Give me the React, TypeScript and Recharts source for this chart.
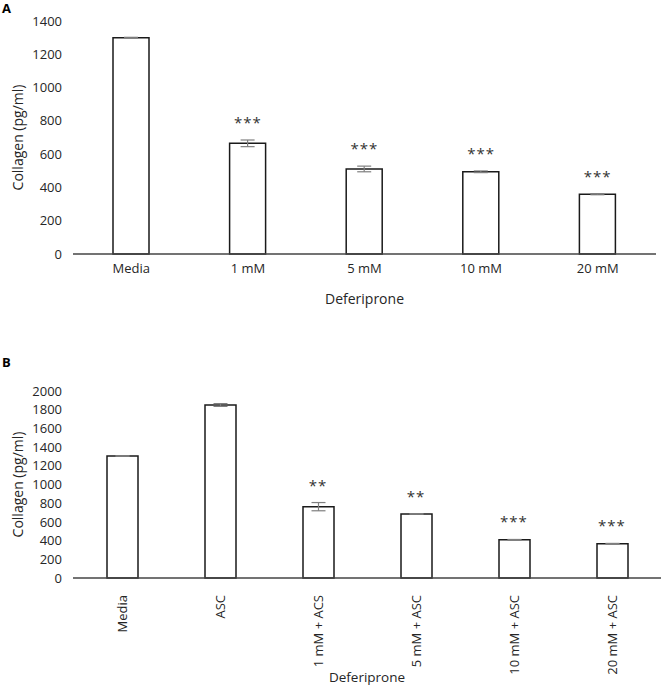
import {
  ComposedChart,
  Bar,
  ErrorBar,
  Scatter,
  XAxis,
  YAxis,
} from 'recharts';

const catsA = ['Media', '1 mM', '5 mM', '10 mM', '20 mM'];
const valsA = [1300, 665, 511, 494, 359];
const errsA = [2, 20, 17, 5, 3];
const starsA = ['', '***', '***', '***', '***'];
const ticksA = [0, 200, 400, 600, 800, 1000, 1200, 1400];

const catsB = ['Media', 'ASC', '1 mM + ACS', '5 mM + ASC', '10 mM + ASC', '20 mM + ASC'];
const valsB = [1305, 1850, 763, 685, 408, 366];
const errsB = [3, 15, 44, 3, 4, 4];
const starsB = ['', '', '**', '**', '***', '***'];
const ticksB = [0, 200, 400, 600, 800, 1000, 1200, 1400, 1600, 1800, 2000];

const FONT = '"Open Sans", sans-serif';
const TEXT = '#262626';

function build(cats: string[], vals: number[], errs: number[], stars: string[]) {
  return cats.map((c, i) => ({
    cat: c,
    val: vals[i],
    err: errs[i],
    top: vals[i] + errs[i],
    stars: stars[i],
  }));
}

// asterisks sit a fixed gap above the error bar top
const StarShape = (props: any) => {
  const { cx, cy, payload } = props;
  if (!payload || !payload.stars) return <g />;
  return (
    <text
      x={cx}
      y={cy - 12}
      textAnchor="middle"
      fontSize={15}
      fill="#333"
      fontFamily={FONT}
      letterSpacing={1}
    >
      {payload.stars}
    </text>
  );
};

const RotTick = (props: any) => {
  const { x, y, payload } = props;
  return (
    <text
      x={0}
      y={0}
      transform={`translate(${x},${y + 9}) rotate(-90)`}
      textAnchor="end"
      dy="0.35em"
      fontSize={13}
      fill={TEXT}
      fontFamily={FONT}
    >
      {payload.value}
    </text>
  );
};

const yLabel = {
  value: 'Collagen (pg/ml)',
  angle: -90,
  position: 'insideLeft' as const,
  offset: 18,
  style: { textAnchor: 'middle', fontSize: 14, fill: TEXT, fontFamily: FONT },
};

export default function App() {
  const dataA = build(catsA, valsA, errsA, starsA);
  const dataB = build(catsB, valsB, errsB, starsB);
  const tick = { fontSize: 13, fill: TEXT, fontFamily: FONT };

  return (
    <div style={{ position: 'absolute', left: 0, top: 0, width: 661, height: 686, background: '#fff' }}>
      <div style={{ position: 'absolute', left: 2, top: -1, fontFamily: FONT, fontWeight: 700, fontSize: 13 }}>A</div>
      <div style={{ position: 'absolute', left: 2, top: 353, fontFamily: FONT, fontWeight: 700, fontSize: 13 }}>B</div>

      <div style={{ position: 'absolute', left: 0, top: 0 }}>
        <ComposedChart width={661} height={310} data={dataA} margin={{ top: 21, right: 5, left: 0, bottom: 0 }}>
          <XAxis
            dataKey="cat"
            axisLine={{ stroke: '#444', strokeWidth: 1.3 }}
            tickLine={false}
            tick={tick}
            tickMargin={4}
            height={56}
            label={{ value: 'Deferiprone', position: 'insideBottom', offset: 6, style: { fontSize: 14, fill: TEXT, fontFamily: FONT } }}
          />
          <YAxis
            domain={[0, 1400]}
            ticks={ticksA}
            axisLine={false}
            tickLine={false}
            tick={tick}
            width={73}
            tickMargin={5}
            label={yLabel}
          />
          <Bar dataKey="val" fill="#fff" stroke="#1a1a1a" strokeWidth={1.5} barSize={36} isAnimationActive={false}>
            <ErrorBar dataKey="err" width={7} stroke="#7f7f7f" strokeWidth={1.2} direction="y" />
          </Bar>
          <Scatter dataKey="top" shape={<StarShape />} isAnimationActive={false} />
        </ComposedChart>
      </div>

      <div style={{ position: 'absolute', left: 0, top: 330 }}>
        <ComposedChart width={661} height={356} data={dataB} margin={{ top: 61, right: 0, left: 0, bottom: 0 }}>
          <XAxis
            dataKey="cat"
            axisLine={{ stroke: '#444', strokeWidth: 1.3 }}
            tickLine={false}
            tick={<RotTick />}
            height={108}
            interval={0}
            label={{ value: 'Deferiprone', position: 'insideBottom', offset: 4, style: { fontSize: 13.5, fill: TEXT, fontFamily: FONT } }}
          />
          <YAxis
            domain={[0, 2000]}
            ticks={ticksB}
            axisLine={false}
            tickLine={false}
            tick={tick}
            width={73}
            tickMargin={5}
            interval={0}
            label={yLabel}
          />
          <Bar dataKey="val" fill="#fff" stroke="#1a1a1a" strokeWidth={1.5} barSize={31} isAnimationActive={false}>
            <ErrorBar dataKey="err" width={7} stroke="#7f7f7f" strokeWidth={1.2} direction="y" />
          </Bar>
          <Scatter dataKey="top" shape={<StarShape />} isAnimationActive={false} />
        </ComposedChart>
      </div>
    </div>
  );
}
